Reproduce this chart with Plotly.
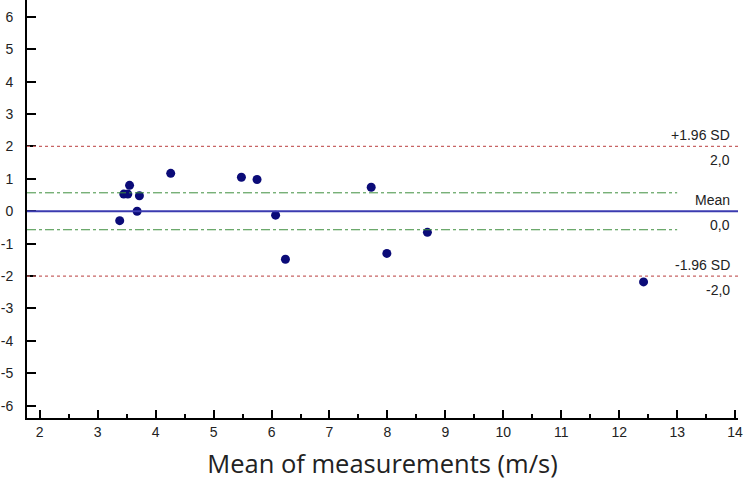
import plotly.graph_objects as go

# Data: Bland-Altman style plot
mean_of_measurements = [3.38, 3.45, 3.52, 3.55, 3.72, 3.68, 4.26, 5.48, 5.75, 6.07, 6.24, 7.72, 7.99, 8.69, 12.42]
differences = [-0.29, 0.53, 0.53, 0.80, 0.48, 0.00, 1.17, 1.05, 0.98, -0.12, -1.48, 0.74, -1.30, -0.65, -2.18]

mean_diff = 0.0
upper_loa = 2.0
lower_loa = -2.0
ci_upper = 0.57
ci_lower = -0.57
ci_x_end = 13.0

x_tick_vals = list(range(2, 15))
x_tick_text = [str(v) for v in x_tick_vals]
y_tick_vals = list(range(-6, 7))
y_tick_text = [str(v) for v in y_tick_vals]

x_range = [1.78, 14.05]
y_range = [-6.38, 6.52]

fig = go.Figure()

fig.add_trace(go.Scatter(
    x=mean_of_measurements, y=differences, mode="markers",
    marker=dict(color="#0b0b78", size=9, line=dict(width=0)),
    showlegend=False, hoverinfo="x+y",
))

shapes = [
    dict(type="line", xref="x", yref="y", x0=x_range[0], x1=x_range[1], y0=upper_loa, y1=upper_loa,
         line=dict(color="#c86464", width=1.2, dash="dot")),
    dict(type="line", xref="x", yref="y", x0=x_range[0], x1=x_range[1], y0=lower_loa, y1=lower_loa,
         line=dict(color="#c86464", width=1.2, dash="dot")),
    dict(type="line", xref="x", yref="y", x0=x_range[0], x1=ci_x_end, y0=ci_upper, y1=ci_upper,
         line=dict(color="#3f8f3f", width=1, dash="dashdot")),
    dict(type="line", xref="x", yref="y", x0=x_range[0], x1=ci_x_end, y0=ci_lower, y1=ci_lower,
         line=dict(color="#3f8f3f", width=1, dash="dashdot")),
    dict(type="line", xref="x", yref="y", x0=x_range[0], x1=x_range[1], y0=mean_diff, y1=mean_diff,
         line=dict(color="#3b3bb0", width=2)),
]

def fmt(v):
    return f"{v:.1f}".replace(".", ",")

ann_font = dict(family="Liberation Sans, Arial, sans-serif", size=14, color="#222222")
annotations = []
for label, val in [("+1.96 SD", upper_loa), ("Mean", mean_diff), ("-1.96 SD", lower_loa)]:
    annotations.append(dict(x=1, xref="paper", y=val, yref="y", text=label, showarrow=False,
                            xanchor="right", yanchor="bottom", yshift=1, xshift=-6, font=ann_font))
    annotations.append(dict(x=1, xref="paper", y=val, yref="y", text=fmt(val), showarrow=False,
                            xanchor="right", yanchor="top", yshift=-4, xshift=-6, font=ann_font))

fig.update_layout(
    width=745, height=491,
    margin=dict(l=27, r=7, t=0, b=73, autoexpand=False),
    paper_bgcolor="white", plot_bgcolor="white",
    shapes=shapes, annotations=annotations,
    showlegend=False,
    xaxis=dict(
        range=x_range, tickvals=x_tick_vals, ticktext=x_tick_text,
        showgrid=False, zeroline=False, showline=True, linecolor="black", linewidth=2,
        ticks="inside", ticklen=8, tickwidth=2, tickcolor="black",
        minor=dict(ticks="inside", ticklen=4, tickwidth=2, tickcolor="black", dtick=0.5, tick0=2),
        tickfont=dict(family="Liberation Sans, Arial, sans-serif", size=14, color="#222222"),
        automargin=False,
        title=dict(text="Mean of measurements (m/s)", standoff=16,
                   font=dict(family="Open Sans, sans-serif", size=25.5, color="#222222")),
    ),
    yaxis=dict(
        range=y_range, tickvals=y_tick_vals, ticktext=y_tick_text,
        showgrid=False, zeroline=False, showline=True, linecolor="black", linewidth=2,
        ticks="inside", ticklen=9, tickwidth=2, tickcolor="black",
        ticklabelstandoff=9, automargin=False,
        tickfont=dict(family="Liberation Sans, Arial, sans-serif", size=14, color="#222222"),
    ),
)

fig.write_html("out.html", config={"displayModeBar": False},
               post_script="document.body.style.margin='0';document.body.style.overflow='hidden';")
